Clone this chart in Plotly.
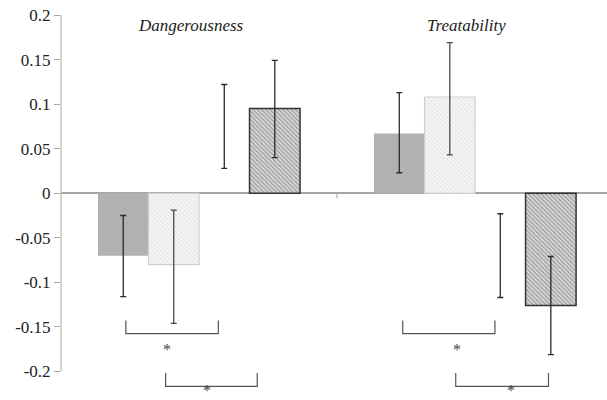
import plotly.graph_objects as go

categories = ["Dangerousness", "Treatability"]
cat_x = [0, 1]

gray_vals = [-0.070, 0.067]
gray_err_plus = [0.045, 0.046]
gray_err_minus = [0.046, 0.044]

light_vals = [-0.080, 0.108]
light_err_plus = [0.061, 0.061]
light_err_minus = [0.066, 0.065]

blank_vals = [0.075, -0.070]
blank_err_plus = [0.047, 0.047]
blank_err_minus = [0.047, 0.047]

dark_vals = [0.095, -0.126]
dark_err_plus = [0.054, 0.055]
dark_err_minus = [0.055, 0.055]

y_ticks = [0.2, 0.15, 0.1, 0.05, 0, -0.05, -0.1, -0.15, -0.2]
y_tick_text = ["0.2", "0.15", "0.1", "0.05", "0", "-0.05", "-0.1", "-0.15", "-0.2"]

ERR_COLOR = "#2a2a2a"
SERIF = "Liberation Serif"

def err(p, m, color=ERR_COLOR):
    return dict(type="data", symmetric=False, array=p, arrayminus=m,
                color=color, thickness=1.3, width=3)

fig = go.Figure()
fig.add_trace(go.Bar(x=cat_x, y=gray_vals, marker=dict(color="#b1b1b3", line=dict(width=0)),
                     error_y=err(gray_err_plus, gray_err_minus), showlegend=False))
fig.add_trace(go.Bar(x=cat_x, y=light_vals,
                     marker=dict(color="#f2f2f2",
                                 line=dict(color="#cfcfcf", width=1.2),
                                 pattern=dict(shape="\\", fgcolor="#cacaca", bgcolor="#f6f6f6",
                                              size=3, solidity=0.3)),
                     error_y=err(light_err_plus, light_err_minus, "#4a4a4a"), showlegend=False))
fig.add_trace(go.Bar(x=cat_x, y=blank_vals, marker=dict(color="rgba(0,0,0,0)", line=dict(width=0)),
                     error_y=err(blank_err_plus, blank_err_minus), showlegend=False))
fig.add_trace(go.Bar(x=cat_x, y=dark_vals,
                     marker=dict(color="#bdbdbd",
                                 line=dict(color="#333333", width=1.5),
                                 pattern=dict(shape="\\", fgcolor="#5a5a5a", bgcolor="#dcdcdc",
                                              size=3, solidity=0.45)),
                     error_y=err(dark_err_plus, dark_err_minus), showlegend=False))

shapes = []
# y axis line
shapes.append(dict(type="line", xref="paper", yref="y", x0=0, x1=0, y0=0.2, y1=-0.2,
                   line=dict(color="#a6a6a6", width=1)))
# category boundary tick
shapes.append(dict(type="line", xref="x", yref="y", x0=0.5, x1=0.5, y0=0, y1=-0.006,
                   line=dict(color="#a6a6a6", width=1)))

# significance brackets: (x0, x1, y_tip, y_base, star_x, star_y, star_anchor)
brackets = [
    (-0.265, 0.070, -0.1427, -0.1576, -0.117, -0.175, "middle"),
    (-0.121, 0.211, -0.2016, -0.2166, 0.028, -0.232, "bottom"),
    (0.738, 1.072, -0.1427, -0.1576, 0.936, -0.175, "middle"),
    (0.930, 1.266, -0.2016, -0.2166, 1.129, -0.232, "bottom"),
]
annotations = []
for (x0, x1, ytop, ybot, sx, sy, anc) in brackets:
    shapes.append(dict(type="path", xref="x", yref="y",
                       path=f"M {x0},{ytop} L {x0},{ybot} L {x1},{ybot} L {x1},{ytop}",
                       line=dict(color="#555555", width=1.2)))
    annotations.append(dict(x=sx, y=sy, xref="x", yref="y", text="*", showarrow=False,
                            yanchor=anc, borderpad=0,
                            font=dict(family=SERIF, size=16, color="#444444")))

for cx, name in zip(cat_x, categories):
    annotations.append(dict(x=cx - 0.03, y=0.188, xref="x", yref="y", text=f"<i>{name}</i>",
                            showarrow=False,
                            font=dict(family=SERIF, size=17, color="#222222")))

fig.update_layout(
    width=607, height=400,
    margin=dict(l=61, r=0, t=15, b=0),
    paper_bgcolor="white", plot_bgcolor="white",
    barmode="group", bargap=0.268, bargroupgap=0,
    shapes=shapes, annotations=annotations,
    xaxis=dict(range=[-0.5, 1.478], showticklabels=False, showgrid=False, zeroline=False,
               showline=False, ticks=""),
    yaxis=dict(range=[-0.232, 0.2], tickvals=y_ticks, ticktext=y_tick_text,
               showgrid=False, zeroline=True, zerolinecolor="#a6a6a6", zerolinewidth=1.5,
               showline=False, ticks="outside", ticklen=6, tickcolor="#a6a6a6",
               tickfont=dict(family=SERIF, size=17, color="#222222")),
)

fig.write_html("out.html", config={"displayModeBar": False},
               post_script="document.body.style.margin='0';document.body.style.padding='0';")
